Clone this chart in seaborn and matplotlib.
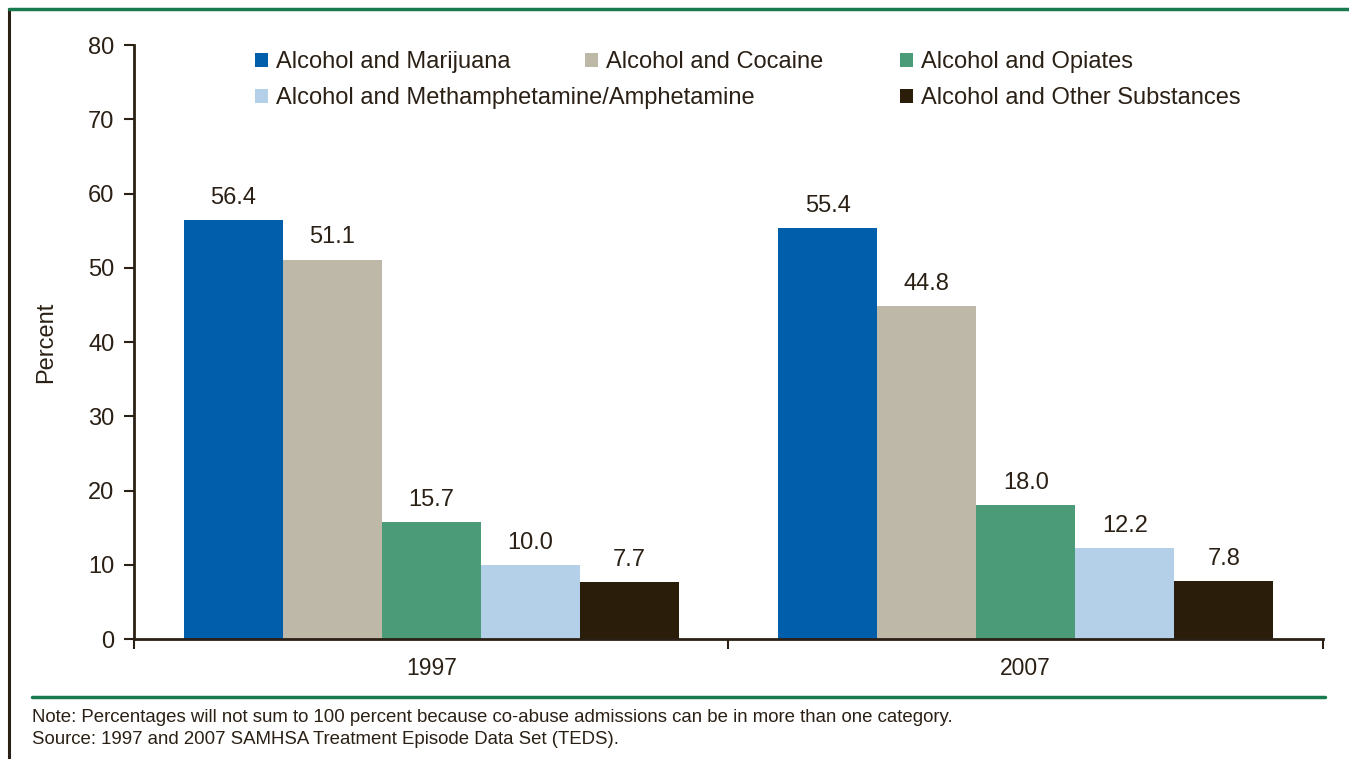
import matplotlib
matplotlib.use("Agg")
import matplotlib.pyplot as plt
import seaborn as sns
import pandas as pd
from matplotlib.lines import Line2D

# Dati
years = ["1997", "2007"]
categories = [
    "Alcohol and Marijuana",
    "Alcohol and Cocaine",
    "Alcohol and Opiates",
    "Alcohol and Methamphetamine/Amphetamine",
    "Alcohol and Other Substances",
]
values_1997 = [56.4, 51.1, 15.7, 10.0, 7.7]
values_2007 = [55.4, 44.8, 18.0, 12.2, 7.8]
colors = ["#005EAA", "#BEB8A8", "#4C9B78", "#B4CFE8", "#2A1E0A"]

rows = []
for cat, v1, v2 in zip(categories, values_1997, values_2007):
    rows.append({"year": "1997", "category": cat, "value": v1})
    rows.append({"year": "2007", "category": cat, "value": v2})
df = pd.DataFrame(rows)

sns.set_style("white")
plt.rcParams["font.family"] = ["Liberation Sans", "DejaVu Sans"]
text_col = "#2A2015"
W, H = 1349, 759

fig = plt.figure(figsize=(13.49, 7.59), dpi=100)
ax = fig.add_axes([0.0993, 0.1581, 0.8814, 0.7826])

sns.barplot(data=df, x="year", y="value", hue="category", order=years,
            hue_order=categories, palette=colors, width=0.833,
            saturation=1, linewidth=0, ax=ax, legend=True)

for cont in ax.containers:
    ax.bar_label(cont, fmt="%.1f", padding=8, fontsize=17, color=text_col)

ax.set_ylim(0, 80)
ax.set_xlim(-0.5, 1.5)
ax.set_yticks(range(0, 81, 10))
ax.set_xlabel("")
ax.set_ylabel("Percent", fontsize=17, color=text_col, labelpad=22)
ax.tick_params(axis="y", direction="out", length=7, width=1.5,
               color=text_col, labelsize=17, labelcolor=text_col, left=True, pad=7)
ax.tick_params(axis="x", which="major", length=0, labelsize=16.5,
               labelcolor=text_col, pad=13)
ax.set_xticks([-0.5, 0.5, 1.5], minor=True)
ax.tick_params(axis="x", which="minor", direction="out", length=7,
               width=1.5, color=text_col, bottom=True)
sns.despine(ax=ax)
for s in ["left", "bottom"]:
    ax.spines[s].set_color(text_col)
    ax.spines[s].set_linewidth(2)

# Legenda: una voce per posizione, come nell'originale
handles, labels = ax.get_legend_handles_labels()
ax.get_legend().remove()
legend_pos = [(255, 62), (585, 62), (900, 62), (255, 98), (900, 98)]
for h, lab, (px, py) in zip(handles, labels, legend_pos):
    fig.legend([h], [lab], loc="center left",
               bbox_to_anchor=(px / W, 1 - py / H), frameon=False,
               fontsize=17, handlelength=0.55, handleheight=0.55,
               handletextpad=0.35, borderpad=0, borderaxespad=0,
               labelcolor=text_col)

# Cornice e linee decorative
fig.add_artist(Line2D([9 / W, 9 / W], [0, 1 - 9 / H], color="#2A2015",
                      linewidth=2.2, transform=fig.transFigure))
fig.add_artist(Line2D([9 / W, 1], [1 - 9 / H, 1 - 9 / H], color="#1A7A4F",
                      linewidth=2.5, transform=fig.transFigure))
fig.add_artist(Line2D([32 / W, 1325 / W], [1 - 697 / H, 1 - 697 / H],
                      color="#1A7A4F", linewidth=2.5, transform=fig.transFigure))

fig.text(32 / W, 1 - 717 / H,
         "Note: Percentages will not sum to 100 percent because co-abuse admissions can be in more than one category.",
         fontsize=13.4, color=text_col, va="center", ha="left")
fig.text(32 / W, 1 - 739 / H,
         "Source: 1997 and 2007 SAMHSA Treatment Episode Data Set (TEDS).",
         fontsize=13.4, color=text_col, va="center", ha="left")

fig.savefig("out.png", dpi=100)
